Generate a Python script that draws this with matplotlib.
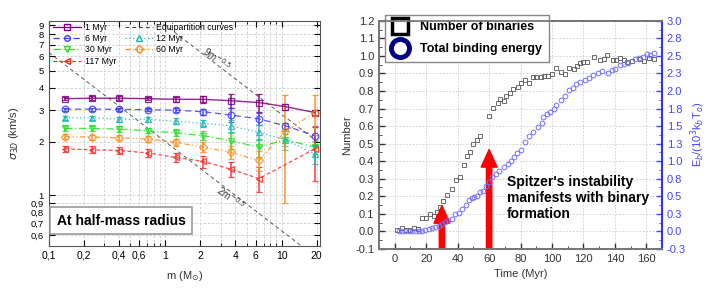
import matplotlib
matplotlib.use("Agg")
import matplotlib.pyplot as plt
import numpy as np
from matplotlib.lines import Line2D

plt.rcParams['font.family'] = ['Liberation Sans', 'DejaVu Sans']

# ---- left panel data: velocity dispersion vs mass at half-mass radius
mass = [0.138, 0.234, 0.403, 0.706, 1.23, 2.12, 3.66, 6.4, 10.8, 19.3]
sig_1 = [3.48, 3.50, 3.50, 3.48, 3.45, 3.45, 3.39, 3.31, 3.14, 2.91]
err_1 = [0.08, 0.10, 0.10, 0.08, 0.10, 0.15, 0.30, 0.38, 0.12, 0.10]
sig_6 = [3.04, 3.04, 3.03, 3.02, 3.00, 2.94, 2.82, 2.68, 2.45, 2.16]
err_6 = [0.06, 0.06, 0.07, 0.07, 0.08, 0.12, 0.25, 0.20, 0.10, 0.25]
sig_12 = [2.72, 2.72, 2.67, 2.67, 2.60, 2.53, 2.45, 2.25, 2.05, 1.70]
err_12 = [0.08, 0.08, 0.08, 0.08, 0.10, 0.12, 0.20, 0.22, 0.15, 0.20]
sig_30 = [2.37, 2.37, 2.35, 2.30, 2.24, 2.16, 2.02, 1.86, 2.05, 1.86]
err_30 = [0.08, 0.08, 0.08, 0.08, 0.10, 0.12, 0.20, 0.22, 0.25, 0.15]
sig_60 = [2.13, 2.12, 2.10, 2.07, 1.98, 1.86, 1.74, 1.57, 2.28, 2.91]
err_60 = [0.07, 0.07, 0.07, 0.08, 0.09, 0.12, 0.15, 0.20, 1.38, 0.74]
mass_117 = [0.138, 0.234, 0.403, 0.706, 1.23, 2.12, 3.66, 6.4, 19.3]
sig_117 = [1.82, 1.80, 1.78, 1.73, 1.63, 1.55, 1.40, 1.24, 1.82]
err_117 = [0.08, 0.08, 0.08, 0.09, 0.10, 0.12, 0.14, 0.20, 0.62]

series = [
    ("1 Myr", mass, sig_1, err_1, '#800080', '-', 's'),
    ("6 Myr", mass, sig_6, err_6, '#3a3aff', (0, (5, 3)), 'o'),
    ("30 Myr", mass, sig_30, err_30, '#22e022', (0, (6, 2, 1, 2)), 'v'),
    ("117 Myr", mass_117, sig_117, err_117, '#ff2a2a', (0, (3, 2)), '<'),
    ("12 Myr", mass, sig_12, err_12, '#1fb5b5', (0, (1, 2)), '^'),
    ("60 Myr", mass, sig_60, err_60, '#ff8c1a', (0, (4, 2, 1, 2, 1, 2)), 'D'),
]

# ---- right panel data: binaries and binding energy vs time
t_bin = [1.5, 4.3, 7.2, 10, 12, 14.6, 17.3, 20, 22.6, 24.7, 26.9, 29, 31, 33.3,
         36.4, 39, 41.3, 43.8, 46, 47.6, 49.8, 52.3, 54.3, 59.7, 62.6, 65.4,
         67.2, 69.7, 71, 73, 75.5, 78.3, 80.3, 83, 85.6, 87.7, 90, 92.7, 95,
         97.6, 100, 102.6, 106, 108.5, 110.7, 113.7, 116, 117.5, 120, 122,
         126.6, 130.5, 133, 135, 138.7, 140.8, 143.2, 145.7, 148, 151, 155.8,
         158.4, 161.5, 164.7]
n_bin = [0.01, 0.02, 0.01, 0.01, 0.02, 0.015, 0.075, 0.075, 0.10, 0.086, 0.11,
         0.14, 0.175, 0.205, 0.24, 0.295, 0.31, 0.376, 0.43, 0.45, 0.495, 0.52,
         0.546, 0.66, 0.705, 0.73, 0.755, 0.745, 0.77, 0.787, 0.81, 0.825,
         0.845, 0.863, 0.848, 0.88, 0.88, 0.88, 0.885, 0.885, 0.895, 0.93,
         0.91, 0.897, 0.93, 0.925, 0.94, 0.962, 0.965, 0.965, 0.996, 0.977,
         0.985, 1.004, 0.977, 0.977, 0.99, 0.977, 0.967, 0.972, 0.985, 0.972,
         0.99, 0.985]

t_en = [2.5, 4.7, 6.8, 8.9, 11, 13.2, 15.3, 17.4, 19.5, 21.6, 23.7, 25.8, 28,
        30, 32, 34, 36.5, 38.6, 40.7, 43, 45, 47, 49, 50.5, 52.3, 54.3, 56.4,
        58, 60, 62, 64.5, 66.6, 69.2, 72, 74, 76, 78, 80, 83, 85.6, 88, 90.8,
        93.5, 94.5, 97, 99, 101.3, 102.7, 106, 108.5, 110.7, 113.5, 115.3, 118,
        120.7, 123.3, 125.8, 129, 132, 135.5, 138, 140, 143, 145.5, 148.6,
        152.8, 155.4, 158, 160.4, 162.5, 164.7]
e_bind = [0.0, 0.0, 0.0, 0.0, 0.0, 0.0, 0.005, 0.01, 0.02, 0.03, 0.043, 0.057,
          0.08, 0.10, 0.13, 0.16, 0.18, 0.25, 0.26, 0.32, 0.37, 0.44, 0.47,
          0.49, 0.51, 0.56, 0.58, 0.65, 0.70, 0.78, 0.82, 0.86, 0.91, 0.96,
          1.0, 1.06, 1.11, 1.16, 1.27, 1.36, 1.42, 1.48, 1.55, 1.63, 1.67,
          1.70, 1.75, 1.80, 1.87, 1.93, 2.02, 2.05, 2.10, 2.13, 2.16, 2.18,
          2.23, 2.26, 2.29, 2.26, 2.30, 2.32, 2.37, 2.39, 2.40, 2.45, 2.47,
          2.49, 2.53, 2.52, 2.54]

right_ticks = [-0.25, 0.0, 0.25, 0.5, 0.75, 1.0, 1.25, 1.5, 1.75, 2.0, 2.25,
               2.5, 2.75, 3.0]
right_labels = ['-0.3', '0.0', '0.3', '0.5', '0.8', '1.0', '1.3', '1.5', '1.8',
                '2.0', '2.3', '2.5', '2.8', '3.0']

fig = plt.figure(figsize=(7.09, 2.9), dpi=100)

# ================= left panel =================
ax = fig.add_axes([0.0687, 0.152, 0.383, 0.776])
ax.set_xscale('log')
ax.set_yscale('log')
ax.set_xlim(0.1, 21.5)
ax.set_ylim(0.52, 9.5)

mline = np.logspace(-1, np.log10(21.5), 50)
ax.plot(mline, 9 * mline ** -0.5, color='#333333', ls=(0, (4, 3)), lw=0.7, alpha=0.8)
ax.plot(mline, 2 * mline ** -0.5, color='#333333', ls=(0, (4, 3)), lw=0.7, alpha=0.8)

for name, mm, s, e, col, ls, mk in series:
    ax.errorbar(mm, s, yerr=e, color=col, ls=ls, lw=1.0 if name == "1 Myr" else 0.9,
                marker=mk, ms=4.8 if mk != 'D' else 4.2, mfc='none', mew=0.9,
                ecolor=col, elinewidth=1.2, capsize=2.5, capthick=0.8,
                alpha=0.85, zorder=3)

ax.text(2.8, 5.8, r'9m$^{-0.5}$', rotation=-37, fontsize=7, color='#333333',
        ha='center', va='center')
ax.text(3.7, 0.96, r'2m$^{-0.5}$', rotation=-37, fontsize=7, color='#333333',
        ha='center', va='center')

xt = [0.1, 0.2, 0.4, 0.6, 1, 2, 4, 6, 10, 20]
ax.set_xticks(xt)
ax.set_xticklabels(['0,1', '0,2', '0,4', '0,6', '1', '2', '4', '6', '10', '20'])
ax.set_xticks([0.3, 0.5, 0.7, 0.8, 0.9, 3, 5, 7, 8, 9], minor=True)
ax.xaxis.set_minor_formatter(plt.NullFormatter())
yt = [0.6, 0.7, 0.8, 0.9, 1, 2, 3, 4, 5, 6, 7, 8, 9]
ax.set_yticks(yt)
ax.set_yticklabels(['0,6', '0,7', '0,8', '0,9', '1', '2', '3', '4', '5', '6', '7', '8', '9'])
ax.yaxis.set_minor_locator(plt.NullLocator())
ax.tick_params(which='both', direction='in', labelsize=7.5, top=True, right=True)
ax.tick_params(axis='y', labelsize=6.8)
ax.tick_params(which='major', length=4)
ax.tick_params(which='minor', length=2)
ax.grid(True, which='both', color='#cccccc', ls=(0, (3, 2)), lw=0.6)
for sp in ax.spines.values():
    sp.set_color('#555555')
ax.set_xlabel(r'm (M$_{\odot}$)', fontsize=8, color='#333333', labelpad=6)
ax.set_ylabel(r'$\sigma_{3D}$ (km/s)', fontsize=8, color='#333333', labelpad=7)

handles = [Line2D([], [], color=c, ls=ls, marker=mk, ms=4, mfc='none', lw=0.9)
           for _, _, _, _, c, ls, mk in series]
labels = [s[0] for s in series]
handles.insert(4, Line2D([], [], color='#333333', ls=(0, (4, 3)), lw=0.7))
labels.insert(4, 'Equipartition curves')
ax.legend(handles, labels, loc='upper left', ncol=2, frameon=False, fontsize=6.3,
          handlelength=3.2, labelspacing=0.25, columnspacing=1.0,
          borderaxespad=0.1, handletextpad=0.4, bbox_to_anchor=(0.0, 1.01))

ax.text(0.117, 0.72, 'At half-mass radius', fontsize=10, fontweight='bold',
        va='center', ha='left',
        bbox=dict(boxstyle='square,pad=0.45', fc='white', ec='#999999', lw=1.2))

# ================= right panel =================
ax2 = fig.add_axes([0.5346, 0.142, 0.3992, 0.786])
ax2.set_xlim(-10, 170)
ax2.set_ylim(-0.1, 1.2)
ax3 = ax2.twinx()
ax3.set_ylim(-0.25, 3.0)

ax2.plot(t_bin, n_bin, ls='none', marker='s', ms=3.2, mfc='none', mec='#555555', mew=0.6)
ax3.plot(t_en, e_bind, ls='none', marker='o', ms=3.4, mfc='none', mec='#7070ff', mew=0.7)

ax2.set_xticks(np.arange(0, 161, 20))
ax2.set_xticks(np.arange(-10, 171, 10), minor=True)
ax2.set_yticks(np.arange(-0.1, 1.21, 0.1))
ax2.set_yticks(np.arange(-0.1, 1.21, 0.05), minor=True)
ax2.set_yticklabels(['%.1f' % v for v in np.arange(-0.1, 1.21, 0.1)])
ax2.tick_params(which='both', direction='in', labelsize=8, colors='#333333')
ax2.tick_params(which='major', length=4, width=1.0)
ax2.tick_params(which='minor', length=2)
ax2.grid(True, color='#cccccc', ls=(0, (2, 2)), lw=0.6)
ax2.set_xlabel('Time (Myr)', fontsize=8, color='#333333')
ax2.set_ylabel('Number', fontsize=8, color='#333333', labelpad=2)

ax3.set_yticks(right_ticks)
ax3.set_yticklabels(right_labels)
ax3.set_yticks(np.arange(-0.25, 3.01, 0.125), minor=True)
ax3.tick_params(which='both', direction='in', labelsize=8, colors='#4444ff')
ax3.tick_params(which='major', length=4, width=1.0)
ax3.tick_params(which='minor', length=2)
ax3.set_ylabel(r'E$_b$/(10$^3$k$_b$T$_o$)', fontsize=8, color='#4444ff', labelpad=2)

for a in (ax2, ax3):
    for sp in a.spines.values():
        sp.set_color('#777777')
        sp.set_linewidth(1.3)
ax3.spines['right'].set_color('#3333ff')
ax3.spines['right'].set_linewidth(1.5)

for x0, tip in [(30, 0.146), (60, 0.466)]:
    ax2.annotate('', xy=(x0, tip), xytext=(x0, -0.1), zorder=5,
                 arrowprops=dict(arrowstyle='simple,head_width=0.95,head_length=1.05,tail_width=0.32',
                                 color='#ff0000', shrinkA=0, shrinkB=0,
                                 mutation_scale=12))

ax2.text(71.5, 0.19, "Spitzer's instability\nmanifests with binary\nformation",
         fontsize=10, fontweight='bold', va='center', ha='left', linespacing=1.2)

leg_h = [Line2D([], [], ls='none', marker='s', ms=11, mfc='none', mec='black', mew=2.5),
         Line2D([], [], ls='none', marker='o', ms=13, mfc='none', mec='#000080', mew=3.5)]
leg = ax2.legend(leg_h, ['Number of binaries', 'Total binding energy'],
                 loc='upper left', bbox_to_anchor=(0.0, 1.055),
                 prop=dict(weight='bold', size=9), fancybox=False,
                 edgecolor='#888888', framealpha=1, labelspacing=0.8,
                 handlelength=1.3, handletextpad=0.9, borderpad=0.55)
leg.set_zorder(10)

fig.savefig('out.png', dpi=100)
